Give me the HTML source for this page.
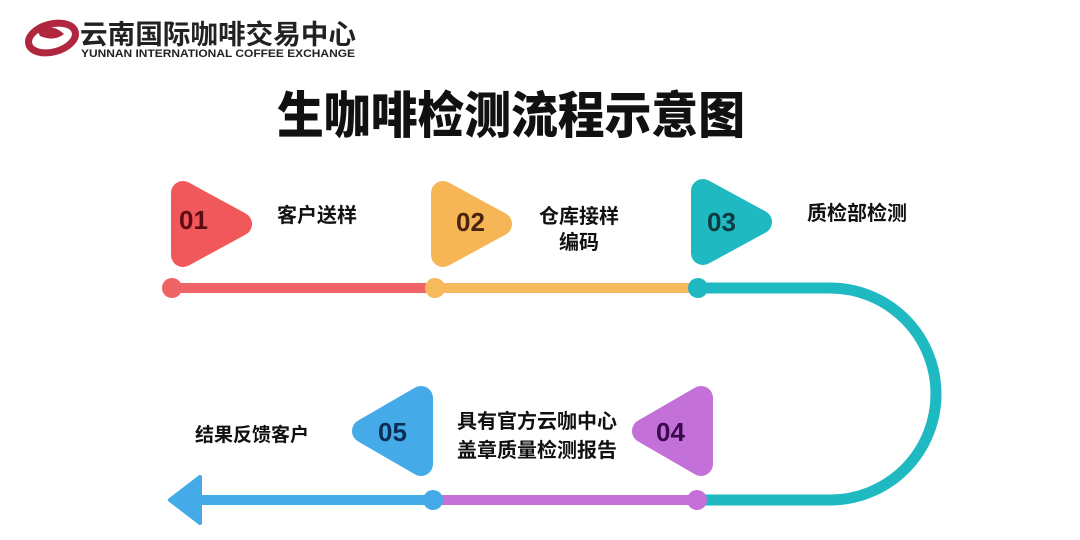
<!DOCTYPE html>
<html><head><meta charset="utf-8"><style>
body{margin:0;width:1080px;height:535px;background:#fff;overflow:hidden;font-family:"Liberation Sans","Noto Sans CJK SC",sans-serif;}
</style></head><body>
<svg width="1080" height="535" viewBox="0 0 1080 535" xmlns="http://www.w3.org/2000/svg" font-family="Liberation Sans, Noto Sans CJK SC, sans-serif">
<g>
<ellipse cx="52" cy="38" rx="24" ry="14" fill="none" stroke="#b0263f" stroke-width="7" transform="rotate(-15 52 38)"/>
<path d="M38 32 q14 -10 26 2 q-10 8 -24 2" fill="#b0263f"/>
<text x="80" y="44" font-size="27" font-weight="700" fill="#222" font-family="Noto Sans CJK SC, sans-serif" textLength="276" lengthAdjust="spacingAndGlyphs">云南国际咖啡交易中心</text>
<text x="81" y="57" font-size="11" font-weight="700" fill="#222" textLength="274" lengthAdjust="spacingAndGlyphs">YUNNAN INTERNATIONAL COFFEE EXCHANGE</text>
</g>
<text x="511" y="133" text-anchor="middle" font-size="50" font-weight="900" fill="#111" font-family="Noto Sans CJK SC, sans-serif" textLength="468" lengthAdjust="spacingAndGlyphs">生咖啡检测流程示意图</text>

<line x1="172" y1="288" x2="435" y2="288" stroke="#ee6466" stroke-width="10"/>
<line x1="435" y1="288" x2="698" y2="288" stroke="#f6b95c" stroke-width="10"/>
<path d="M698 288 H830 A106 106 0 0 1 830 500 H697" fill="none" stroke="#1fb9c1" stroke-width="11"/>
<line x1="697" y1="500" x2="433" y2="500" stroke="#c470d9" stroke-width="10"/>
<line x1="433" y1="500" x2="195" y2="500" stroke="#45abe8" stroke-width="10"/>
<polygon points="170,500 200,477 200,523" fill="#45abe8" stroke="#45abe8" stroke-width="4" stroke-linejoin="round"/>
<circle cx="172" cy="288" r="10" fill="#ee6466"/>
<circle cx="435" cy="288" r="10" fill="#f6b95c"/>
<circle cx="698" cy="288" r="10" fill="#1fb9c1"/>
<circle cx="697" cy="500" r="10" fill="#c470d9"/>
<circle cx="433" cy="500" r="10" fill="#45abe8"/>

<g stroke-linejoin="round" stroke-width="24">
<polygon points="183,193 240,224 183,255" fill="#f0585b" stroke="#f0585b"/>
<polygon points="443,193 500,224 443,255" fill="#f6b656" stroke="#f6b656"/>
<polygon points="703,191 760,222 703,253" fill="#1fb9c1" stroke="#1fb9c1"/>
<polygon points="701,398 644,431 701,464" fill="#c470d9" stroke="#c470d9"/>
<polygon points="421,398 364,431 421,464" fill="#45abe8" stroke="#45abe8"/>
</g>
<g font-size="26" font-weight="700">
<text x="179" y="229" fill="#5a0d12">01</text>
<text x="456" y="231" fill="#4a2410">02</text>
<text x="707" y="231" fill="#0d3a40">03</text>
<text x="656" y="441" fill="#3a0a4a">04</text>
<text x="378" y="441" fill="#0a2e55">05</text>
</g>
<g font-size="20" font-weight="700" fill="#111" font-family="Noto Sans CJK SC, sans-serif">
<text x="277" y="222">客户送样</text>
<text x="539" y="223">仓库接样</text>
<text x="559" y="249">编码</text>
<text x="807" y="220">质检部检测</text>
<text x="195" y="441" font-size="19">结果反馈客户</text>
<text x="457" y="428">具有官方云咖中心</text>
<text x="457" y="457">盖章质量检测报告</text>
</g>
</svg>
</body></html>
